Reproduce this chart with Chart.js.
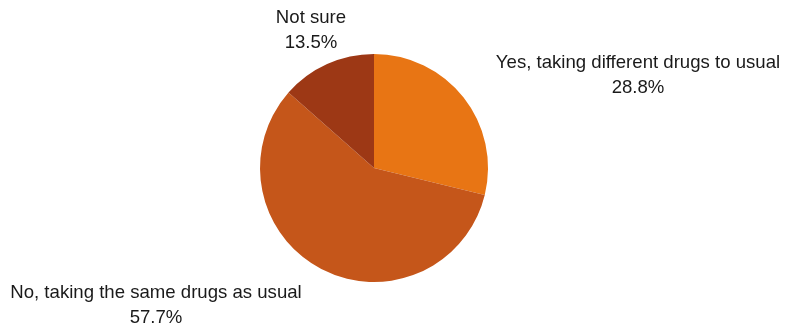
<!DOCTYPE html>
<html>
<head>
<meta charset="utf-8">
<script src="https://cdn.jsdelivr.net/npm/chart.js@4/dist/chart.umd.min.js"></script>
<style>
  html, body { margin: 0; padding: 0; background: #fff; }
  #wrap { position: relative; width: 785px; height: 327px; }
</style>
</head>
<body>
<div id="wrap"><canvas id="pie"></canvas></div>
<script>
const answers = ['Yes, taking different drugs to usual', 'No, taking the same drugs as usual', 'Not sure'];
const shares = [28.8, 57.7, 13.5];
const sliceColors = ['#E87514', '#C5561A', '#9D3815'];

// where each two-line label sits, relative to the pie centre (x = text centre, y = first baseline)
const labelOffsets = [[264, -100], [-218, 130], [-63, -145]];

const outsideLabels = {
  id: 'outsideLabels',
  afterDatasetsDraw(chart) {
    const ctx = chart.ctx;
    const arcs = chart.getDatasetMeta(0).data;
    ctx.save();
    ctx.fillStyle = '#1a1a1a';
    ctx.font = '18.6px "Liberation Sans", Arial, sans-serif';
    ctx.textAlign = 'center';
    ctx.textBaseline = 'alphabetic';
    arcs.forEach((arc, i) => {
      const [dx, dy] = labelOffsets[i];
      const x = arc.x + dx, y = arc.y + dy;
      ctx.fillText(chart.data.labels[i], x, y);
      ctx.fillText(chart.data.datasets[0].data[i].toFixed(1) + '%', x, y + 25);
    });
    ctx.restore();
  }
};

new Chart(document.getElementById('pie'), {
  type: 'pie',
  data: {
    labels: answers,
    datasets: [{ data: shares, backgroundColor: sliceColors, borderWidth: 0 }],
  },
  options: {
    responsive: true,
    maintainAspectRatio: false,
    animation: false,
    layout: { padding: { top: 54, bottom: 45, left: 260, right: 297 } },
    plugins: { legend: { display: false }, tooltip: { enabled: false } },
  },
  plugins: [outsideLabels],
});
</script>
</body>
</html>
